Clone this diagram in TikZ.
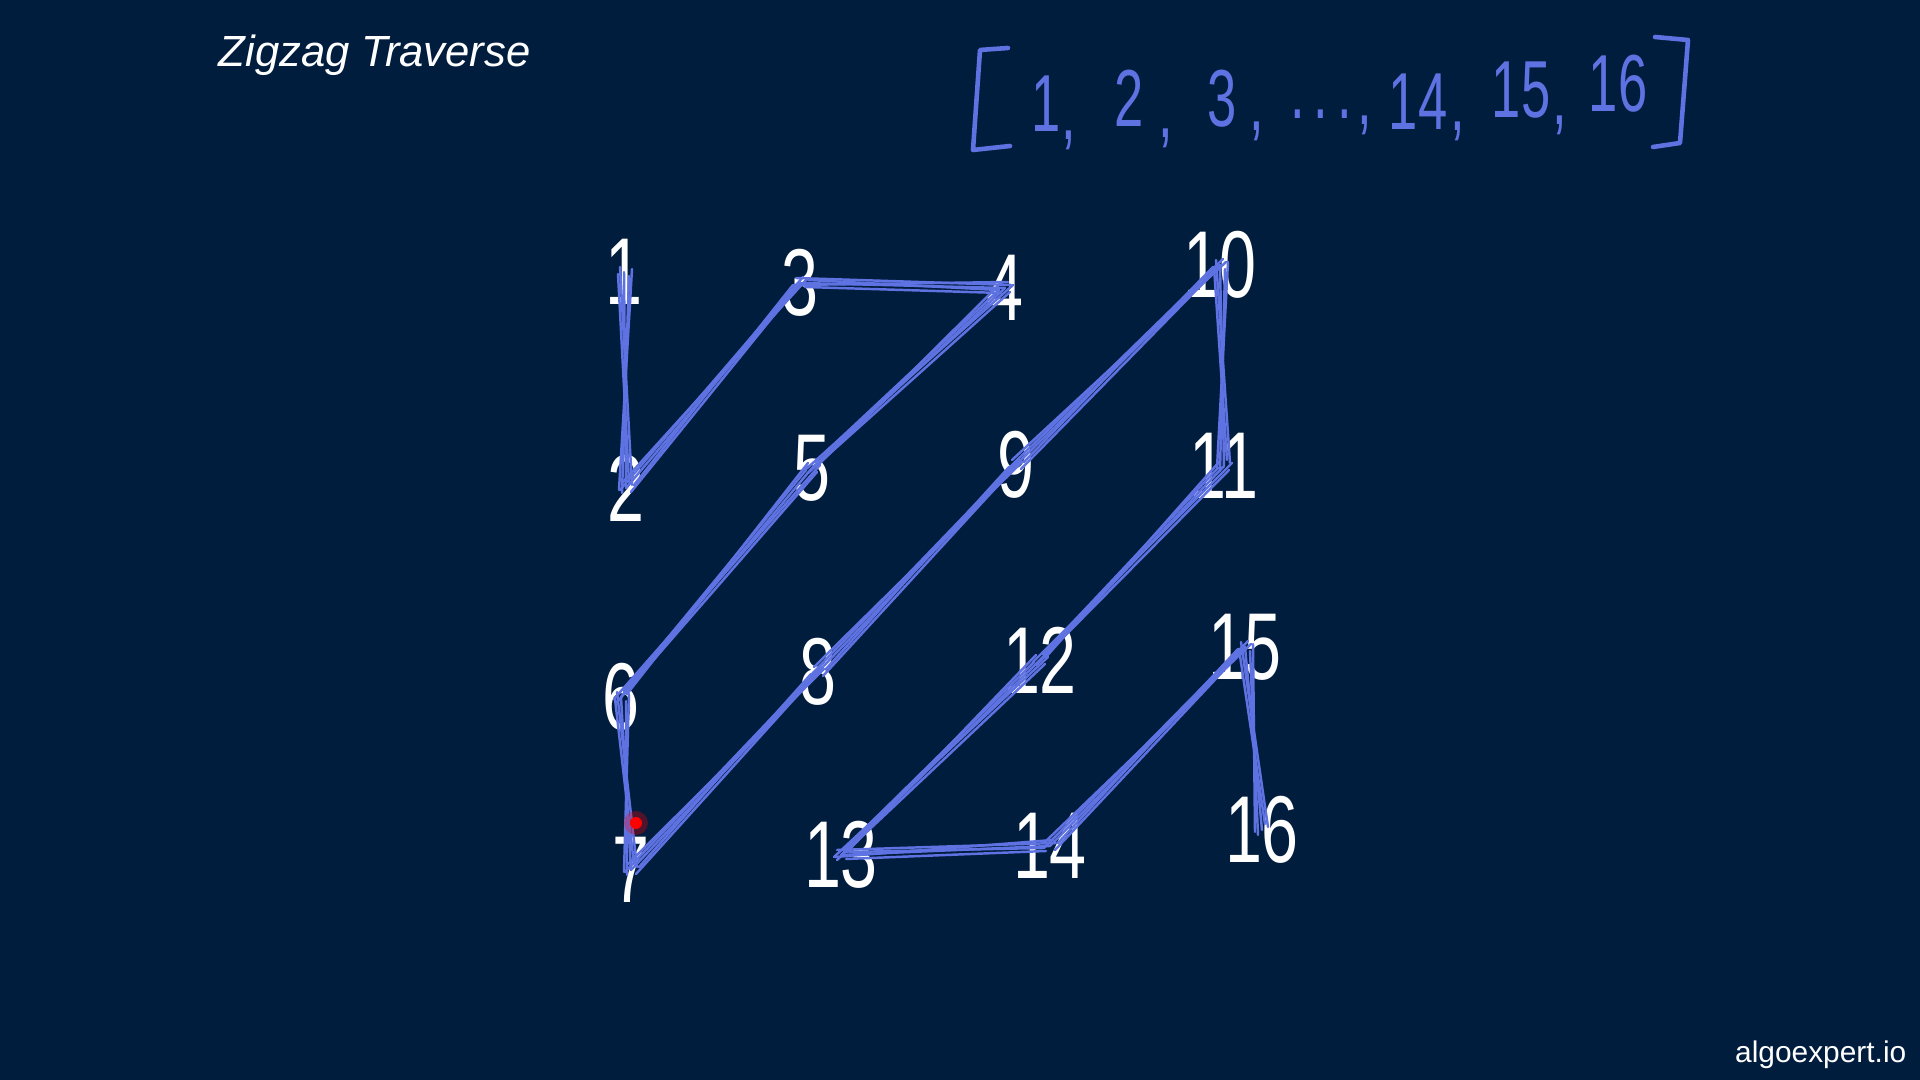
\documentclass[tikz,border=0pt]{standalone}
\usepackage{fontspec}
\setsansfont{Liberation Sans}
\usetikzlibrary{calc}
\definecolor{boardnavy}{HTML}{011D3E}
\definecolor{pen}{HTML}{5F72E2}

\begin{document}
\begin{tikzpicture}[
  x=0.01cm, y=-0.01cm,
  cell/.style={text=white, font=\sffamily\fontsize{27}{27}\selectfont, inner sep=0pt, xscale=0.7},
  entry/.style={text=pen, font=\sffamily\fontsize{23}{23}\selectfont, inner sep=0pt, anchor=base, xscale=0.65},
  scribble/.style={draw=pen, line width=0.7pt, line cap=round, line join=round},
  bracket/.style={draw=pen, line width=1.3pt, line cap=round, line join=round}
]
\fill[boardnavy] (0,0) rectangle (1920,1080);
\useasboundingbox (0,0) rectangle (1920,1080);

\node[anchor=base west, inner sep=0pt, text=white, font=\sffamily\itshape\fontsize{12.4}{14}\selectfont] (title) at (218,67) {Zigzag Traverse};
\node[anchor=base east, inner sep=0pt, text=white, font=\sffamily\fontsize{8.5}{10}\selectfont] (brand) at (1907,1063) {algoexpert.io};

% flattened result
\draw[bracket] (1008,48) -- (980,50) -- (973,150) -- (1010,146);
\draw[bracket] (1655,37) -- (1688,40) -- (1680,143) -- (1653,147);
\foreach \t/\x/\y in {1/1046/132, 2/1129/127, 3/1222/127, 14/1418/130, 15/1521/118, 16/1618/112}
  \node[entry] at (\x,\y) {\t};
\node[entry] (dots) at (1321,119) {.\,.\,.};
\foreach \x/\y in {1069/140, 1166/138, 1257/131, 1365/125, 1458/131, 1560/125}
  \node[entry] at (\x,\y) {,};

% matrix entries
\foreach \v/\x/\y in {1/624/272, 2/626/488, 3/800/283, 4/1005/288,
                      5/812/468, 6/621/697, 7/631/870, 8/818/672,
                      9/1016/465, 10/1220/265, 11/1224/466, 12/1040/660,
                      13/841/855, 14/1050/846, 15/1245/647, 16/1262/830}
  \node[cell] (n\v) at (\x,\y) {\v};

% zigzag path
\foreach \i [evaluate=\i as \j using int(\i+1)] in {1,...,15}
  \foreach \dx/\dy/\ex/\ey in {0/0/0/0, 5/4/-4/5, -4/-5/6/-3, 8/-3/-7/2, -6/2/3/-6}
    \draw[scribble] ($(n\i.center)+(\dx,\dy)$) -- ($(n\j.center)+(\ex,\ey)$);

% pointer
\fill[red, opacity=0.3] (636,823) circle (12);
\fill[red] (636,823) circle (6);
\end{tikzpicture}
\end{document}
